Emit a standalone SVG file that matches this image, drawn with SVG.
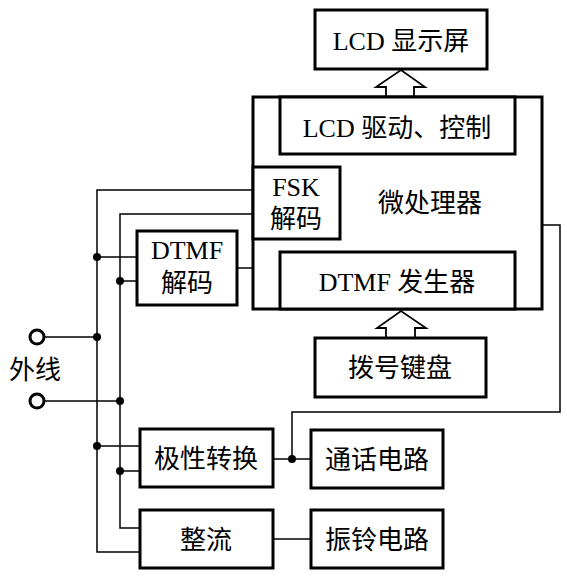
<svg xmlns="http://www.w3.org/2000/svg" width="567" height="580" viewBox="0 0 567 580">
<style>
.box{fill:#fff;stroke:#000;stroke-width:3}
.ln{fill:none;stroke:#000;stroke-width:1.5}
.arr{fill:none;stroke:#000;stroke-width:1.8}
.dot{fill:#000}
.term{fill:#fff;stroke:#000;stroke-width:3}
text{font-family:"Liberation Serif","Noto Sans CJK SC",serif;font-size:26px;fill:#000;text-anchor:middle}
</style>
<rect width="567" height="580" fill="#fff"/>
<g id="connectors">
<polyline class="ln" points="253,190 97,190 97,552 140,552"/>
<polyline class="ln" points="253,214 120,214 120,528 140,528"/>
<line class="ln" x1="97" y1="257" x2="137" y2="257"/>
<line class="ln" x1="120" y1="281" x2="137" y2="281"/>
<line class="ln" x1="237" y1="268" x2="253" y2="268"/>
<line class="ln" x1="37" y1="337" x2="97" y2="337"/>
<line class="ln" x1="37" y1="401" x2="120" y2="401"/>
<line class="ln" x1="97" y1="446" x2="140" y2="446"/>
<line class="ln" x1="120" y1="471" x2="140" y2="471"/>
<polyline class="ln" points="542,225 560,225 560,412 292,412 292,459"/>
<line class="ln" x1="273" y1="459" x2="311" y2="459"/>
<line class="ln" x1="273" y1="539" x2="311" y2="539"/>
<polyline class="arr" points="386,97 386,87 376,87 401,70 425,87 414,87 414,97"/>
<polyline class="arr" points="386,338 386,328 377,328 401,311 426,328 415,328 415,338"/>
<circle class="dot" cx="97" cy="257" r="4"/>
<circle class="dot" cx="120" cy="281" r="4"/>
<circle class="dot" cx="97" cy="337" r="4"/>
<circle class="dot" cx="120" cy="401" r="4"/>
<circle class="dot" cx="97" cy="446" r="4"/>
<circle class="dot" cx="120" cy="471" r="4"/>
<circle class="dot" cx="292" cy="459" r="4"/>
</g>
<g id="lcd-display"><rect class="box" x="315" y="10" width="172" height="59"/><text x="401" y="50">LCD 显示屏</text></g>
<g id="mcu"><rect class="box" x="253" y="97" width="289" height="212"/><text x="430" y="212">微处理器</text></g>
<g id="lcd-driver"><rect class="box" x="280" y="97" width="235" height="57"/><text x="397" y="137">LCD 驱动、控制</text></g>
<g id="fsk"><rect class="box" x="253" y="167" width="87" height="72"/><text x="296" y="196">FSK</text><text x="296" y="228">解码</text></g>
<g id="dtmf-gen"><rect class="box" x="280" y="252" width="235" height="57"/><text x="397" y="291">DTMF 发生器</text></g>
<g id="dtmf-dec"><rect class="box" x="137" y="231" width="100" height="74"/><text x="187" y="259">DTMF</text><text x="187" y="292">解码</text></g>
<g id="keypad"><rect class="box" x="315" y="338" width="171" height="59"/><text x="400" y="377">拨号键盘</text></g>
<g id="line-in"><circle class="term" cx="37" cy="337" r="7"/><circle class="term" cx="37" cy="401" r="7"/><text x="35" y="379">外线</text></g>
<g id="polarity"><rect class="box" x="140" y="429" width="133" height="58"/><text x="206" y="468">极性转换</text></g>
<g id="talk"><rect class="box" x="311" y="430" width="132" height="58"/><text x="377" y="469">通话电路</text></g>
<g id="rectifier"><rect class="box" x="140" y="510" width="133" height="58"/><text x="206" y="549">整流</text></g>
<g id="ring"><rect class="box" x="311" y="510" width="132" height="58"/><text x="377" y="549">振铃电路</text></g>
</svg>
